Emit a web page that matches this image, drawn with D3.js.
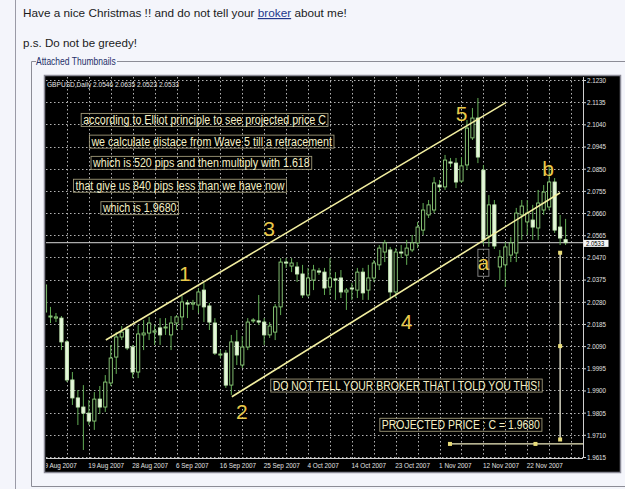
<!DOCTYPE html>
<html>
<head>
<meta charset="utf-8">
<script src="https://cdn.jsdelivr.net/npm/d3@7"></script>
<style>
body{margin:0;background:#f4f5fb;}
svg{display:block;}
</style>
</head>
<body>
<svg id="page" width="625" height="489"></svg>
<script>
// GBPUSD daily bars, 9 Aug 2007 .. 27 Nov 2007
var openP = [2.0236,2.0215,2.0210,2.0210,2.0108,1.9945,1.9868,1.9829,1.9803,1.9769,
  1.9863,1.9829,1.9932,2.0043,2.0129,2.0163,2.0086,1.9979,2.0138,2.0146,
  2.0150,2.0168,2.0168,2.0138,2.0189,2.0215,2.0275,2.0270,2.0266,2.0330,
  2.0262,2.0189,2.0052,2.0060,1.9923,2.0108,2.0009,2.0086,2.0198,2.0198,
  2.0193,2.0138,2.0150,2.0258,2.0450,2.0433,2.0429,2.0399,2.0309,2.0373,
  2.0412,2.0407,2.0343,2.0378,2.0382,2.0322,2.0339,2.0330,2.0407,2.0330,
  2.0382,2.0438,2.0493,2.0502,2.0322,2.0493,2.0480,2.0502,2.0532,2.0587,
  2.0652,2.0673,2.0780,2.0772,2.0879,2.0874,2.0797,2.0866,2.0982,2.1067,
  2.0844,2.0562,2.0695,2.0429,2.0438,2.0480,2.0489,2.0652,2.0622,2.0630,
  2.0596,2.0673,2.0686,2.0793,2.0600,2.0546];
var highP = [2.0365,2.0258,2.0232,2.0219,2.0116,1.9979,1.9902,1.9923,1.9859,1.9893,
  1.9919,1.9966,2.0095,2.0150,2.0176,2.0176,2.0095,2.0180,2.0202,2.0215,
  2.0180,2.0210,2.0210,2.0219,2.0223,2.0305,2.0288,2.0288,2.0339,2.0360,
  2.0275,2.0210,2.0073,2.0073,2.0138,2.0159,2.0133,2.0210,2.0210,2.0309,
  2.0210,2.0193,2.0270,2.0467,2.0467,2.0467,2.0450,2.0438,2.0425,2.0438,
  2.0425,2.0425,2.0467,2.0407,2.0416,2.0339,2.0360,2.0425,2.0425,2.0438,
  2.0459,2.0523,2.0545,2.0515,2.0510,2.0523,2.0545,2.0566,2.0622,2.0703,
  2.0716,2.0814,2.0802,2.0909,2.0896,2.0896,2.0900,2.1059,2.1110,2.1153,
  2.0866,2.0737,2.0716,2.0502,2.0536,2.0557,2.0682,2.0716,2.0716,2.0695,
  2.0759,2.0780,2.0866,2.0810,2.0652,2.0635];
var lowP = [2.0210,2.0189,2.0193,2.0073,1.9936,1.9838,1.9752,1.9645,1.9752,1.9731,
  1.9799,1.9808,1.9919,1.9971,2.0116,2.0073,1.9953,1.9953,2.0073,2.0116,
  2.0095,2.0095,2.0138,2.0073,2.0159,2.0159,2.0210,2.0245,2.0232,2.0193,
  2.0159,2.0052,2.0039,1.9911,1.9881,2.0009,1.9996,2.0073,2.0189,2.0180,
  2.0095,2.0125,2.0116,2.0223,2.0425,2.0407,2.0365,2.0296,2.0300,2.0330,
  2.0395,2.0309,2.0309,2.0288,2.0296,2.0245,2.0288,2.0296,2.0288,2.0288,
  2.0365,2.0416,2.0450,2.0288,2.0296,2.0467,2.0438,2.0493,2.0510,2.0566,
  2.0639,2.0660,2.0750,2.0759,2.0857,2.0767,2.0789,2.0844,2.0973,2.0874,
  2.0523,2.0515,2.0506,2.0373,2.0343,2.0450,2.0450,2.0545,2.0566,2.0545,
  2.0545,2.0652,2.0673,2.0575,2.0523,2.0523];
var closeP = [2.0352,2.0219,2.0215,2.0108,1.9945,1.9868,1.9829,1.9803,1.9769,1.9863,
  1.9829,1.9936,2.0039,2.0129,2.0150,2.0082,1.9979,2.0142,2.0146,2.0189,
  2.0155,2.0138,2.0172,2.0189,2.0215,2.0279,2.0270,2.0275,2.0322,2.0258,
  2.0193,2.0060,2.0056,1.9923,2.0108,2.0052,2.0086,2.0193,2.0202,2.0193,
  2.0138,2.0176,2.0258,2.0450,2.0446,2.0446,2.0399,2.0309,2.0382,2.0416,
  2.0407,2.0339,2.0382,2.0373,2.0322,2.0330,2.0335,2.0407,2.0318,2.0382,
  2.0446,2.0510,2.0532,2.0322,2.0493,2.0489,2.0510,2.0532,2.0600,2.0673,
  2.0695,2.0789,2.0772,2.0887,2.0874,2.0793,2.0862,2.1024,2.1067,2.0900,
  2.0545,2.0695,2.0519,2.0472,2.0515,2.0532,2.0660,2.0690,2.0660,2.0600,
  2.0703,2.0750,2.0793,2.0587,2.0553,2.0533];

var priceTicks = [2.1230,2.1135,2.1040,2.0945,2.0850,2.0755,2.0660,2.0565,2.0470,
  2.0375,2.0280,2.0185,2.0090,1.9995,1.9900,1.9805,1.9710,1.9615];
var dateBars = [0,8,16,24,32,40,48,56,64,72,80,88];
var dateLabels = ["9 Aug 2007","19 Aug 2007","28 Aug 2007","6 Sep 2007","16 Sep 2007",
  "25 Sep 2007","4 Oct 2007","14 Oct 2007","23 Oct 2007","1 Nov 2007","12 Nov 2007","22 Nov 2007"];
var currentPrice = 2.0533;
var headerText = "GBPUSD,Daily  2.0546 2.0635 2.0523 2.0533";

// channel lines [bar, price]
var upperLine = [[11.1, 2.0116], [84.1, 2.1133]];
var lowerLine = [[34.1, 1.9873], [94.0, 2.0747]];

// wave labels
var waveNames = ["1","2","3","4","5","a","b"];
var waveBars = [25.5, 35.9, 40.9, 66.0, 76.0, 80.0, 91.8];
var wavePrices = [2.0402, 1.9809, 2.0595, 2.0195, 2.1088, 2.0445, 2.0845];

// text notes on the chart
var noteTexts = ["according to Elliot principle to see projected price C",
  "we calculate distace from Wave 5 till a retracement",
  "which is 520 pips and then multiply with 1.618",
  "that give us 840 pips less than we have now",
  "which is 1.9680",
  "DO NOT TELL YOUR BROKER THAT I TOLD YOU THIS!",
  "PROJECTED PRICE : C = 1.9680"];
var noteBars = [6.6, 8.1, 8.4, 5.2, 10.2, 41.2, 61.1];
var notePrices = [2.1059, 2.0966, 2.0875, 2.0777, 2.0681, 1.9921, 1.9753];

// projection tool
var projBar = 94, projTop = 2.0490, projBottom = 1.9690;
var baseBars = [73.9, 89.5], basePrice = 1.9671;

var svg = d3.select("#page");
var sans = "Liberation Sans, Arial, sans-serif";

function squeeze(sel, f) {
  sel.each(function() {
    var w = this.getComputedTextLength();
    d3.select(this).attr("textLength", w * f).attr("lengthAdjust", "spacingAndGlyphs");
  });
}
// scale a text's font so that it spans the wanted width
function fitWidth(sel, size, want) {
  var w = sel.node().getComputedTextLength();
  sel.style("font-size", (size * want / w) + "px");
}

// ---- forum post around the picture ----
svg.append("line").attr("x1", 15.5).attr("x2", 15.5).attr("y1", 0).attr("y2", 489)
  .attr("stroke", "#9a9aa6");

var t1 = svg.append("text").attr("x", 23).attr("y", 17)
  .style("font-family", sans).style("font-size", "12px").attr("fill", "#1b1b1b");
t1.append("tspan").text("Have a nice Christmas !! and do not tell your ");
t1.append("tspan").text("broker").attr("fill", "#22388c").style("text-decoration", "underline");
t1.append("tspan").text(" about me!");
fitWidth(t1, 12, 324);

var t2 = svg.append("text").attr("x", 23).attr("y", 47).text("p.s. Do not be greedy!")
  .style("font-family", sans).style("font-size", "12px").attr("fill", "#1b1b1b");
fitWidth(t2, 12, 114);

// fieldset
svg.append("path").attr("d", "M36,61.5 H31.5 V486.5 H625 M117,61.5 H625")
  .attr("fill", "none").attr("stroke", "#8c8c96");
var t3 = svg.append("text").attr("x", 36).attr("y", 65).text("Attached Thumbnails")
  .style("font-family", sans).style("font-size", "10px").attr("fill", "#24306a");
squeeze(t3, 0.85);

// ---- chart frame ----
svg.append("rect").attr("x", 44.5).attr("y", 75.5).attr("width", 576).attr("height", 397)
  .attr("fill", "#000").attr("stroke", "#8a8a96").attr("stroke-width", 1.5);

var plotL = 46, plotR = 583, plotT = 77, plotB = 458;

var x = d3.scaleLinear().domain([0, 95]).range([45, 565.6]);
var y = d3.scaleLinear().domain([1.9615, 2.1230]).range([457, 80]);

svg.append("clipPath").attr("id", "plotClip").append("rect")
  .attr("x", plotL).attr("y", plotT).attr("width", plotR - plotL).attr("height", plotB - plotT);

var plot = svg.append("g").attr("clip-path", "url(#plotClip)");

// dotted grid
plot.selectAll(".hgrid").data(priceTicks).enter().append("line")
  .attr("x1", plotL).attr("x2", plotR)
  .attr("y1", function(d) { return Math.round(y(d)) + 0.5; })
  .attr("y2", function(d) { return Math.round(y(d)) + 0.5; })
  .attr("stroke", "#b4b4b4").attr("stroke-dasharray", "1.5,2.5");
plot.selectAll(".vgrid").data(d3.range(0, 97, 4)).enter().append("line")
  .attr("x1", function(d) { return Math.round(x(d)) + 0.5; })
  .attr("x2", function(d) { return Math.round(x(d)) + 0.5; })
  .attr("y1", plotT).attr("y2", plotB)
  .attr("stroke", "#b4b4b4").attr("stroke-dasharray", "1.5,2.5");

// current price line
plot.append("line").attr("x1", plotL).attr("x2", plotR)
  .attr("y1", y(currentPrice)).attr("y2", y(currentPrice))
  .attr("stroke", "#d8d8d8").attr("stroke-width", 1);

// candles
var bars = d3.range(openP.length);
plot.selectAll(".wick").data(bars).enter().append("line")
  .attr("x1", function(i) { return x(i); }).attr("x2", function(i) { return x(i); })
  .attr("y1", function(i) { return y(highP[i]); }).attr("y2", function(i) { return y(lowP[i]); })
  .attr("stroke", "#62ad55").attr("stroke-width", 1);
plot.selectAll(".body").data(bars).enter().append("rect")
  .attr("x", function(i) { return x(i) - 1.6; })
  .attr("width", 3.2)
  .attr("y", function(i) { return y(Math.max(openP[i], closeP[i])); })
  .attr("height", function(i) { return Math.max(1, Math.abs(y(openP[i]) - y(closeP[i]))); })
  .attr("fill", function(i) { return closeP[i] >= openP[i] ? "#000" : "#e6f6dc"; })
  .attr("stroke", function(i) { return closeP[i] >= openP[i] ? "#8fd07c" : "#c8ecb8"; })
  .attr("stroke-width", 0.9);

// channel lines
var lineGen = d3.line().x(function(d) { return x(d[0]); }).y(function(d) { return y(d[1]); });
[upperLine, lowerLine].forEach(function(l) {
  plot.append("path").attr("d", lineGen(l)).attr("fill", "none")
    .attr("stroke", "#f2eea0").attr("stroke-width", 1.6);
});

// projection tool
plot.append("line").attr("x1", x(projBar)).attr("x2", x(projBar))
  .attr("y1", y(projTop)).attr("y2", y(projBottom))
  .attr("stroke", "#f4f2dc").attr("stroke-width", 1.3);
plot.append("line").attr("x1", x(baseBars[0])).attr("x2", plotR)
  .attr("y1", y(basePrice)).attr("y2", y(basePrice))
  .attr("stroke", "#f0ecc0").attr("stroke-width", 1.3);
var markers = [[projBar, projTop], [projBar, (projTop + projBottom) / 2], [projBar, projBottom],
  [baseBars[0], basePrice], [baseBars[1], basePrice]];
plot.selectAll(".marker").data(markers).enter().append("rect")
  .attr("x", function(d) { return x(d[0]) - 2; }).attr("y", function(d) { return y(d[1]) - 2; })
  .attr("width", 4).attr("height", 4).attr("fill", "#e8dc78");

// notes
var notes = plot.selectAll(".note").data(noteTexts).enter().append("g");
notes.each(function(d, i) {
  var g = d3.select(this);
  var tx = x(noteBars[i]) + 2, ty = y(notePrices[i]);
  var t = g.append("text").attr("x", tx).attr("y", ty + 4.3).text(d)
    .style("font-family", sans).style("font-size", "12px")
    .attr("fill", "#f4efc4");
  var w = t.node().getComputedTextLength() * (i >= 5 ? 0.87 : 0.89);
  t.attr("textLength", w).attr("lengthAdjust", "spacingAndGlyphs");
  g.insert("rect", "text").attr("x", tx - 2).attr("y", ty - 6.5)
    .attr("width", w + 4).attr("height", 13)
    .attr("fill", "none").attr("stroke", "#9e9878").attr("stroke-width", 0.9);
});

// wave labels
plot.selectAll(".wave").data(waveNames).enter().append("text")
  .attr("x", function(d, i) { return x(waveBars[i]); })
  .attr("y", function(d, i) { return y(wavePrices[i]); })
  .attr("dy", function(d) { return d === "a" || d === "b" ? "0.3em" : "0.36em"; })
  .attr("text-anchor", "middle").text(function(d) { return d; })
  .style("font-family", sans).style("font-size", "21px")
  .attr("fill", "#e9c94a");
var ai = waveNames.indexOf("a");
plot.append("rect").attr("x", x(waveBars[ai]) - 5.5).attr("y", y(wavePrices[ai]) - 14)
  .attr("width", 11).attr("height", 27).attr("fill", "none")
  .attr("stroke", "#8e8e8e").attr("stroke-width", 0.9);

// header
svg.append("text").attr("x", 47).attr("y", 87).text(headerText)
  .style("font-family", sans).style("font-size", "8px")
  .attr("fill", "#e8e8e8").attr("textLength", 132).attr("lengthAdjust", "spacingAndGlyphs");

// right price axis
var yAxis = d3.axisRight(y).tickValues(priceTicks).tickSize(3).tickFormat(d3.format(".4f"));
var ya = svg.append("g").attr("transform", "translate(" + plotR + ",0)").call(yAxis);
ya.select(".domain").attr("stroke", "#d0d0d0").attr("d", "M0.5," + plotT + "V" + plotB);
ya.selectAll(".tick line").attr("stroke", "#d0d0d0");
ya.selectAll(".tick text").attr("x", 4).attr("fill", "#e0e0e0")
  .style("font-family", sans).style("font-size", "7.5px");
squeeze(ya.selectAll(".tick text"), 0.83);

// current price box
var cp = svg.append("g");
cp.append("rect").attr("x", plotR + 0.5).attr("y", y(currentPrice) - 2.8)
  .attr("width", 25).attr("height", 7).attr("fill", "#f4f4f4");
var cpt = cp.append("text").attr("x", plotR + 3).attr("y", y(currentPrice) + 3.3)
  .text(d3.format(".4f")(currentPrice))
  .style("font-family", sans).style("font-size", "7px")
  .attr("fill", "#000");
squeeze(cpt, 0.85);

// bottom date axis (clipped at the left edge of the plot, like the original)
var xAxis = d3.axisBottom(x).tickValues(dateBars).tickSize(0)
  .tickFormat(function(d, i) { return dateLabels[i]; });
svg.append("clipPath").attr("id", "axisClip").append("rect")
  .attr("x", plotL).attr("y", plotB - 1).attr("width", plotR - plotL + 2).attr("height", 16);
var xaWrap = svg.append("g").attr("clip-path", "url(#axisClip)");
var xa = xaWrap.append("g").attr("transform", "translate(0," + plotB + ")").call(xAxis);
xa.select(".domain").attr("stroke", "#d0d0d0").attr("d", "M" + plotL + ",0.5H" + plotR);
xa.selectAll(".tick text").attr("text-anchor", "start").attr("x", -1).attr("y", 5).attr("dy", "0.71em")
  .attr("fill", "#e0e0e0")
  .style("font-family", sans).style("font-size", "7.5px");
squeeze(xa.selectAll(".tick text"), 0.85);
</script>
</body>
</html>
